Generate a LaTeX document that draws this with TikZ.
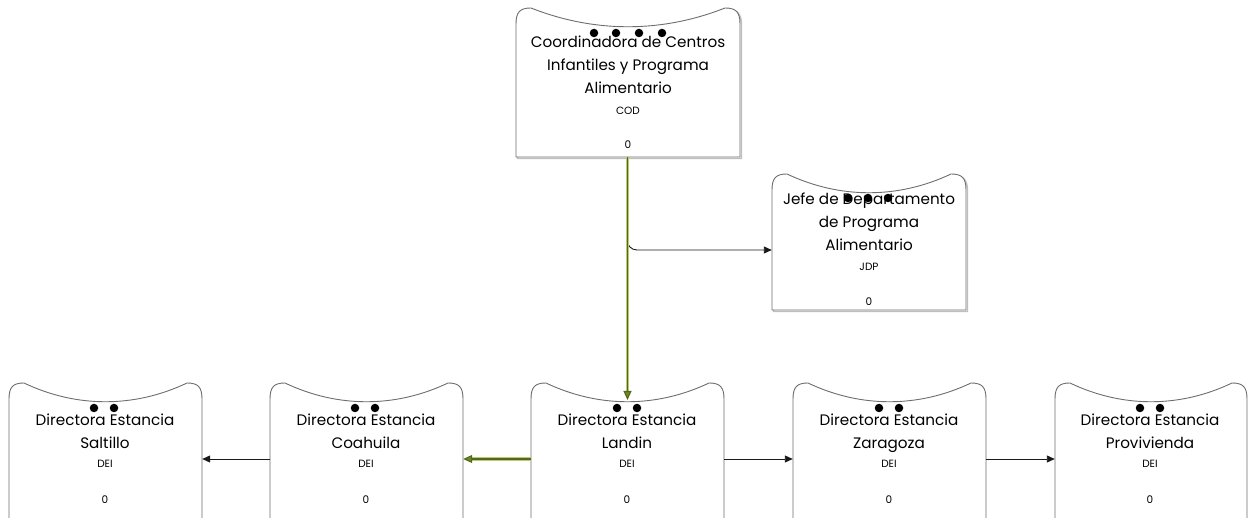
\documentclass[tikz,border=0pt]{standalone}
\usepackage{fontspec}
\setmainfont{Poppins}
\usetikzlibrary{arrows.meta,fit}
\definecolor{edge}{HTML}{6E6E6E}
\definecolor{olive}{HTML}{55661F}
\definecolor{olivehalo}{HTML}{B5CC70}
\definecolor{olivetip}{HTML}{6B8A1F}
\tikzset{
  boxline/.style={draw=edge, line width=0.9pt, fill=white},
  boxshadow/.style={draw=black!25, line width=1.4pt},
  title/.style={font=\fontsize{15.2}{23}\selectfont, align=center, text=black, inner sep=0},
  code/.style={font=\fontsize{10.5}{12}\selectfont, text=black, inner sep=0},
  dot/.style={fill=black, circle, inner sep=0, minimum size=8.5pt},
  link/.style={draw=black!90, line width=0.9pt, -{Triangle[length=8pt,width=7pt]}},
  mainlink/.style={draw=olive, line width=1.1pt, -{Triangle[length=9pt,width=8pt,fill=olivetip]},
    preaction={draw=olivehalo, line width=3.4pt, -{}, shorten >=8pt}},
}
% outline with a wavy top: name, left, right, top, bottom
\newcommand\wavyoutline[5]{%
  (#2,#5) -- (#2,#4+16) .. controls (#2,#4+4) and (#2+4,#4) .. (#2+15,#4)
  .. controls ({#2+(#3-#2)*0.35},#4+25) and ({#3-(#3-#2)*0.35},#4+25) .. (#3-15,#4)
  .. controls (#3-4,#4) and (#3,#4+4) .. (#3,#4+16) -- (#3,#5)}
\newcommand\orgbox[5]{%
  \path (#2,#4) coordinate (#1-nw) (#3,#5) coordinate (#1-se)
        ({(#2+#3)/2},#4+17) coordinate (#1-in);
  \node[fit=(#1-nw)(#1-se), inner sep=0] (#1) {};
}
\begin{document}
\begin{tikzpicture}[x=1pt,y=-1pt]
\useasboundingbox (0,0) rectangle (1256,518);

% boxes
\orgbox{cod}{516}{740}{8}{157}
\orgbox{jdp}{772}{966}{174}{310}
\orgbox{sal}{9}{202}{383}{530}
\orgbox{coa}{270}{463}{383}{530}
\orgbox{lan}{531}{724}{383}{530}
\orgbox{zar}{793}{986}{383}{530}
\orgbox{pro}{1055}{1247}{383}{530}

\draw[boxshadow, shift={(1.5,1.5)}] \wavyoutline{cod}{516}{740}{8}{157} -- cycle;
\draw[boxline] \wavyoutline{cod}{516}{740}{8}{157} -- cycle;
\draw[boxshadow, shift={(1.5,1.5)}] \wavyoutline{jdp}{772}{966}{174}{310} -- cycle;
\draw[boxline] \wavyoutline{jdp}{772}{966}{174}{310} -- cycle;
\begin{scope}
\clip (0,0) rectangle (1256,518);
\foreach \l/\r in {9/202,270/463,531/724,793/986,1055/1247}{
  \fill[white] \wavyoutline{}{\l}{\r}{383}{530} -- cycle;
  \draw[boxline] \wavyoutline{}{\l}{\r}{383}{530};
}
\end{scope}

% texts
\node[title] (codt) at (628,66) {\strut Coordinadora de Centros\\Infantiles y Programa\\Alimentario\strut};
\node[code] (codc) at (628,111) {COD};
\node[code] (codz) at (628,145) {0};
\node[title] (jdpt) at (869,223) {\strut Jefe de Departamento\\de Programa\\Alimentario\strut};
\node[code] (jdpc) at (869,267) {JDP};
\node[code] (jdpz) at (869,302) {0};
\foreach \n/\x/\t in {sal/105/Saltillo, coa/366/Coahuila, lan/627/Landin, zar/889/Zaragoza, pro/1150/Provivienda}{
  \node[title] (\n t) at (\x,432) {\strut Directora Estancia\\\t\strut};
  \node[code] (\n c) at (\x,464) {DEI};
  \node[code] (\n z) at (\x,500) {0};
}

% dots
\foreach \x [count=\i] in {594,616,639,662} \node[dot] (cod d\i) at (\x,33) {};
\foreach \x [count=\i] in {848,868,888} \node[dot] (jdp d\i) at (\x,198) {};
\foreach \n/\x in {sal/94, coa/355, lan/617, zar/879, pro/1140}{
  \node[dot] (\n d1) at (\x,408) {};
  \node[dot] (\n d2) at (\x+20,408) {};
}

% connectors
\coordinate (split) at (627,236);
\draw[link, rounded corners=10pt] (split) |- (jdp.west |- 0,250);
\draw[mainlink] (cod.south -| lan-in) -- (lan-in);
\draw[mainlink] (lan.west |- 0,459) -- (coa.east |- 0,459);
\draw[link] (coa.west |- 0,459) -- (sal.east |- 0,459);
\draw[link] (lan.east |- 0,459) -- (zar.west |- 0,459);
\draw[link] (zar.east |- 0,459) -- (pro.west |- 0,459);
\end{tikzpicture}
\end{document}
